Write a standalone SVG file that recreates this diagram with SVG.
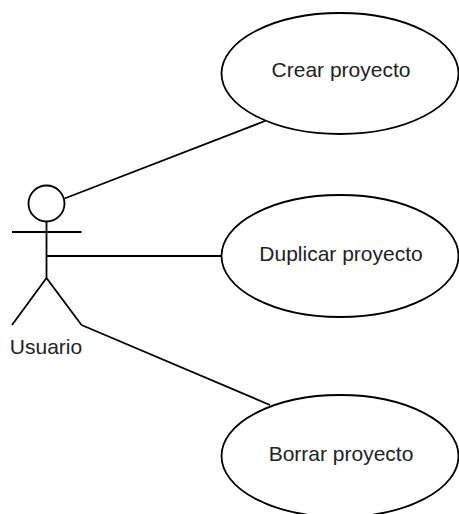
<svg xmlns="http://www.w3.org/2000/svg" width="459" height="514" viewBox="0 0 459 514">
  <style>
    .line { fill: none; stroke: #000; stroke-width: 1.8; }
    .usecase { fill: #fff; stroke: #000; stroke-width: 1.8; }
    .label { font-family: "Liberation Sans", Arial, sans-serif; font-size: 21px; fill: #222; text-anchor: middle; }
  </style>
  <rect width="459" height="514" fill="#fff"/>

  <!-- associations between the actor and the use cases -->
  <g id="connectors">
    <path class="line" d="M64.5,198.5 L265,121"/>
    <path class="line" d="M47,256 L221.5,256"/>
    <path class="line" d="M81.5,325 L270,405"/>
  </g>

  <!-- actor -->
  <g id="usuario">
    <circle class="line" cx="46.5" cy="203.5" r="18"/>
    <path class="line" d="M46.5,221.5 V278 M12,232 H81.5 M12,325 L46.5,278 L81.5,325"/>
    <text class="label" x="46" y="354">Usuario</text>
  </g>

  <!-- use cases -->
  <g id="crear-proyecto">
    <ellipse class="usecase" cx="340" cy="73.5" rx="118.5" ry="60.5"/>
    <text class="label" x="341" y="77">Crear proyecto</text>
  </g>
  <g id="duplicar-proyecto">
    <ellipse class="usecase" cx="340" cy="256" rx="118.5" ry="61"/>
    <text class="label" x="341" y="261">Duplicar proyecto</text>
  </g>
  <g id="borrar-proyecto">
    <ellipse class="usecase" cx="340" cy="456" rx="118.5" ry="61"/>
    <text class="label" x="341" y="461">Borrar proyecto</text>
  </g>
</svg>
